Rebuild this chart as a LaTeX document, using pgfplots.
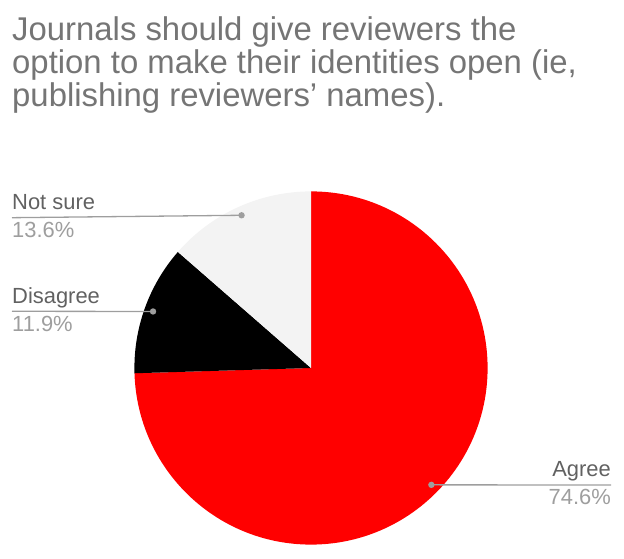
\documentclass[border=0pt]{standalone}
\usepackage{pgfplots}
\pgfplotsset{compat=1.18}
\usepackage{fontspec}
\setmainfont{Liberation Sans}
\definecolor{pieRed}{HTML}{FF0000}
\definecolor{pieBlack}{HTML}{000000}
\definecolor{pieGray}{HTML}{F3F3F3}
\definecolor{titleGray}{HTML}{757575}
\definecolor{labGray}{HTML}{616161}
\definecolor{pctGray}{HTML}{9E9E9E}
\definecolor{lineGray}{HTML}{9E9E9E}
\tikzset{
  ttl/.style={anchor=base west,inner sep=0,text=titleGray,font=\fontsize{33}{36}\selectfont},
  lab/.style={inner sep=0,text=labGray,font=\fontsize{22}{26}\selectfont},
  pct/.style={inner sep=0,text=pctGray,font=\fontsize{22}{26}\selectfont},
  lead/.style={lineGray,line width=1.3bp}
}
\begin{document}
\begin{tikzpicture}
% survey shares (percent)
\def\vA{74.6}\def\vD{11.9}\def\vN{13.6}
\pgfmathsetmacro\tot{\vA+\vD+\vN}
\pgfmathsetmacro\aA{90-\vA/\tot*360}
\pgfmathsetmacro\aD{\aA-\vD/\tot*360}
\pgfmathsetmacro\aN{\aD-\vN/\tot*360}
\pgfmathsetmacro\mA{(90+\aA)/2}
\pgfmathsetmacro\mD{(\aA+\aD)/2}
\pgfmathsetmacro\mN{(\aD+\aN)/2}
\def\R{176.6bp}
\begin{axis}[width=624bp,height=559bp,scale only axis,
    xmin=0,xmax=624,ymin=0,ymax=559,
    hide axis,clip=false]
  \path (axis cs:0,0) rectangle (axis cs:624,559);
  % wedges, clockwise from the top
  \fill[pieRed] (axis cs:311,191) -- ++(90:\R) arc[start angle=90,end angle=\aA,radius=\R] -- cycle;
  \fill[pieBlack] (axis cs:311,191) -- ++(\aA:\R) arc[start angle=\aA,end angle=\aD,radius=\R] -- cycle;
  \fill[pieGray] (axis cs:311,191) -- ++(\aD:\R) arc[start angle=\aD,end angle=\aN,radius=\R] -- cycle;
  % title
  \node[ttl] at (axis cs:12,518) {Journals should give reviewers the};
  \node[ttl] at (axis cs:12,485) {option to make their identities open (ie,};
  \node[ttl] at (axis cs:12,452) {publishing reviewers’ names).};
  % leader lines
  \draw[lead] (axis cs:311,191) ++(\mN:0.95*\R) coordinate (dN) -- (axis cs:12,341.3);
  \fill[lineGray] (dN) circle[radius=3.2bp];
  \draw[lead] (axis cs:311,191) ++(\mD:0.95*\R) coordinate (dD) -- (axis cs:12,247.7);
  \fill[lineGray] (dD) circle[radius=3.2bp];
  \draw[lead] (axis cs:311,191) ++(\mA:0.95*\R) coordinate (dA) -- (axis cs:611,74);
  \fill[lineGray] (dA) circle[radius=3.2bp];
  % labels
  \node[lab,anchor=base west] at (axis cs:12,349) {Not sure};
  \node[pct,anchor=base west] at (axis cs:12,321) {\vN\%};
  \node[lab,anchor=base west] at (axis cs:12,255) {Disagree};
  \node[pct,anchor=base west] at (axis cs:12,227) {\vD\%};
  \node[lab,anchor=base east] at (axis cs:611,82) {Agree};
  \node[pct,anchor=base east] at (axis cs:611,54) {\vA\%};
\end{axis}
\end{tikzpicture}
\end{document}
